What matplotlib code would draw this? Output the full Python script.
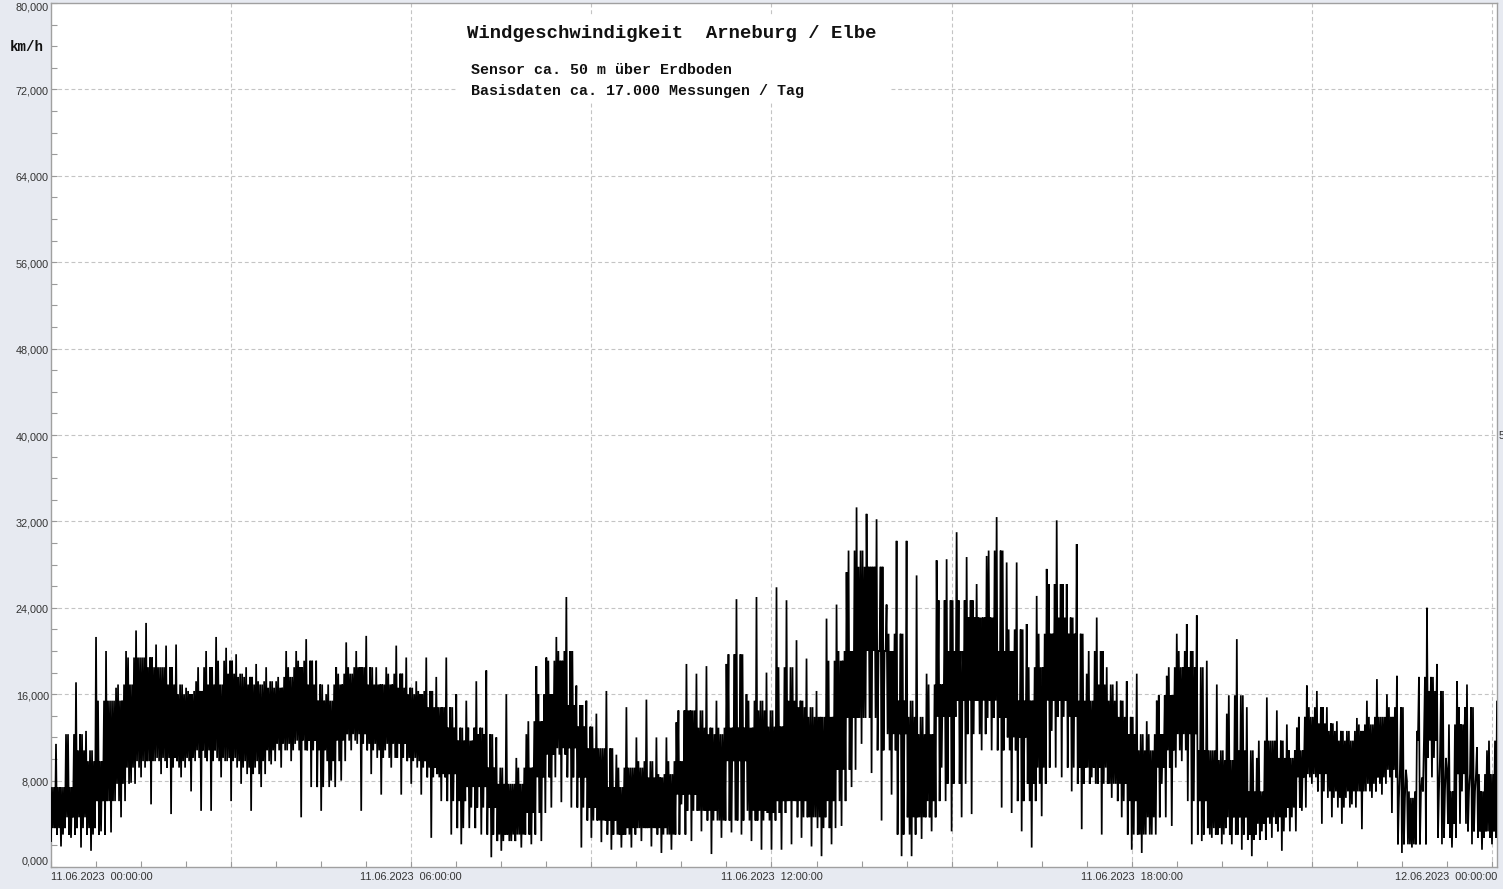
import numpy as np
import matplotlib
matplotlib.use("Agg")
import matplotlib.pyplot as plt
from matplotlib.patches import Rectangle

W, H = 1503, 889

# ---- data: wind speed (km/h), read per 10-minute segment of 11.06.2023 ----
segment_minutes = 10
spike_hi = [
    11.4, 12.3, 17.1, 12.6, 21.3, 20.0, 16.6, 20.0, 21.9, 22.6,
    20.6, 20.5, 20.6, 16.6, 17.2, 20.0, 21.3, 20.3, 19.7, 18.5,
    18.8, 18.5, 17.2, 20.0, 20.0, 21.1, 19.1, 16.0, 18.5, 20.8,
    20.0, 21.4, 18.5, 18.5, 20.5, 19.4, 17.2, 19.4, 17.6, 19.4,
    16.0, 15.4, 17.2, 18.2, 12.0, 16.0, 10.1, 12.3, 18.6, 19.4,
    21.3, 25.0, 16.8, 15.4, 14.2, 16.3, 10.4, 14.8, 12.0, 15.5,
    12.0, 12.0, 13.4, 18.8, 17.9, 18.6, 15.4, 18.8, 24.8, 16.0,
    25.0, 18.0, 25.9, 24.7, 21.0, 19.3, 16.3, 23.0, 24.3, 27.3,
    33.3, 32.7, 32.2, 24.3, 30.2, 30.2, 27.0, 17.9, 28.4, 28.5,
    31.0, 28.7, 26.2, 28.8, 32.4, 28.2, 28.2, 22.5, 25.1, 27.6,
    32.1, 26.2, 29.9, 17.9, 23.1, 18.5, 17.2, 17.2, 17.9, 13.5,
    15.4, 17.7, 21.6, 22.5, 23.3, 19.1, 16.9, 14.2, 21.1, 14.8,
    10.1, 15.7, 14.5, 13.2, 12.9, 16.8, 16.3, 14.8, 13.5, 12.6,
    13.8, 15.4, 17.4, 16.0, 17.7, 8.0, 12.6, 24.0, 18.8, 8.9,
    17.2, 16.9, 11.1, 10.8, 15.4,
]
spike_lo = [
    2.4, 1.9, 2.7, 1.8, 1.5, 3.3, 3.2, 4.6, 7.8, 8.3,
    5.8, 8.6, 4.9, 8.3, 7.0, 5.2, 5.2, 8.3, 6.1, 7.7,
    5.2, 7.4, 9.5, 9.2, 9.8, 4.6, 7.4, 5.2, 8.0, 8.0,
    10.8, 5.2, 8.6, 6.7, 9.2, 6.7, 7.7, 6.7, 2.7, 6.1,
    3.0, 2.1, 5.5, 3.0, 0.9, 1.5, 2.4, 1.8, 2.1, 2.4,
    5.5, 6.0, 5.5, 1.8, 2.7, 2.3, 1.6, 1.8, 1.8, 2.4,
    1.9, 1.3, 1.6, 5.8, 2.4, 3.3, 1.2, 2.7, 3.2, 3.0,
    2.4, 1.6, 1.6, 1.6, 2.1, 2.7, 1.9, 1.0, 2.1, 3.8,
    7.4, 11.4, 8.7, 4.3, 6.7, 1.0, 1.0, 2.6, 3.3, 9.2,
    3.3, 4.6, 4.9, 10.8, 10.8, 5.5, 5.0, 3.3, 1.8, 4.7,
    12.6, 8.3, 7.0, 3.5, 8.3, 3.0, 6.4, 4.6, 1.6, 1.3,
    3.0, 7.7, 3.8, 9.8, 2.1, 2.4, 2.7, 2.1, 2.1, 1.6,
    1.0, 3.3, 2.7, 1.5, 4.6, 5.2, 7.7, 4.0, 4.6, 4.0,
    5.8, 3.5, 6.4, 6.7, 5.0, 1.3, 1.8, 8.3, 8.3, 2.1,
    1.8, 7.0, 2.1, 1.6, 2.1,
]
core_hi = [
    7.4, 7.4, 12.3, 10.8, 9.8, 15.4, 15.4, 16.9, 19.4, 19.4,
    18.5, 18.5, 16.9, 16.0, 16.3, 18.5, 16.9, 19.1, 17.9, 17.6,
    16.9, 17.2, 16.6, 17.6, 18.5, 19.1, 16.9, 15.4, 16.9, 17.9,
    18.5, 18.5, 16.9, 16.9, 17.9, 16.6, 16.0, 16.3, 14.8, 14.8,
    12.9, 11.7, 12.9, 12.3, 9.2, 7.7, 7.7, 9.2, 13.5, 16.0,
    19.1, 20.0, 15.0, 13.0, 11.0, 11.0, 7.4, 9.2, 9.2, 9.8,
    8.3, 8.6, 9.8, 14.5, 14.5, 12.9, 12.3, 12.9, 19.7, 12.9,
    15.4, 14.5, 13.0, 18.5, 15.4, 14.8, 13.9, 13.9, 19.1, 20.0,
    29.3, 27.8, 27.8, 20.0, 21.6, 15.4, 13.9, 12.3, 16.9, 24.7,
    20.0, 24.7, 23.1, 23.1, 29.3, 20.0, 22.0, 15.4, 18.5, 21.6,
    26.2, 23.1, 21.6, 15.4, 20.0, 16.9, 15.4, 13.9, 12.3, 10.8,
    12.3, 15.9, 18.5, 20.0, 18.5, 10.8, 10.8, 9.9, 15.9, 10.8,
    7.0, 11.7, 11.7, 10.1, 10.8, 13.9, 14.8, 13.3, 12.6, 11.7,
    12.6, 13.2, 13.9, 13.9, 14.8, 6.4, 7.0, 17.6, 16.3, 7.0,
    13.2, 14.8, 7.0, 8.6, 11.7,
]
core_lo = [
    3.6, 3.0, 4.6, 3.6, 3.0, 6.1, 6.1, 7.7, 9.2, 9.8,
    9.8, 10.1, 9.2, 9.8, 10.1, 10.8, 9.8, 10.1, 9.8, 9.2,
    8.6, 9.8, 10.8, 11.4, 10.8, 11.7, 10.8, 7.4, 9.8, 11.7,
    12.3, 11.4, 10.8, 10.1, 11.4, 10.1, 9.8, 9.2, 8.3, 8.6,
    6.1, 3.6, 7.4, 5.5, 3.0, 2.4, 3.0, 3.0, 5.0, 8.3,
    10.4, 11.0, 8.3, 5.5, 4.3, 4.3, 3.0, 3.0, 3.6, 3.6,
    3.6, 3.0, 3.0, 6.7, 5.2, 5.2, 4.3, 4.3, 9.8, 4.3,
    5.2, 4.3, 5.0, 6.1, 6.1, 4.6, 4.6, 3.6, 6.1, 9.0,
    13.8, 13.8, 20.0, 10.8, 12.3, 3.0, 4.6, 4.6, 6.1, 13.9,
    7.7, 15.4, 12.3, 15.4, 13.8, 10.8, 12.0, 6.1, 7.7, 9.2,
    15.4, 13.9, 9.2, 7.7, 9.2, 7.7, 7.7, 6.1, 3.0, 3.0,
    4.6, 9.2, 10.8, 12.3, 6.1, 3.0, 3.6, 3.0, 4.6, 3.0,
    2.5, 4.0, 4.6, 3.3, 5.5, 8.3, 8.6, 7.0, 6.4, 5.5,
    7.0, 7.0, 7.7, 8.3, 9.0, 2.1, 2.1, 11.7, 10.1, 2.7,
    4.0, 8.6, 3.3, 2.7, 3.3,
]

y_ticks = [0, 8, 16, 24, 32, 40, 48, 56, 64, 72, 80]
y_tick_labels = ["0,000", "8,000", "16,000", "24,000", "32,000", "40,000",
                 "48,000", "56,000", "64,000", "72,000", "80,000"]
x_grid_hours = [3, 6, 9, 12, 15, 18, 21, 24]
x_tick_hours = [0, 6, 12, 18, 24]
x_tick_labels = ["11.06.2023  00:00:00", "11.06.2023  06:00:00",
                 "11.06.2023  12:00:00", "11.06.2023  18:00:00",
                 "12.06.2023  00:00:00"]
title = "Windgeschwindigkeit  Arneburg / Elbe"
subtitle1 = "Sensor ca. 50 m über Erdboden"
subtitle2 = "Basisdaten ca. 17.000 Messungen / Tag"
unit_label = "km/h"

# ---- figure ----
bg = "#e7eaf1"
fig = plt.figure(figsize=(W / 100, H / 100), dpi=100, facecolor=bg)
ax_l, ax_r, ax_t, ax_b = 51, 1497, 3, 867
ax = fig.add_axes([ax_l / W, 1 - ax_b / H, (ax_r - ax_l) / W, (ax_b - ax_t) / H])
ax.set_facecolor("white")

n = len(spike_hi)
t0 = np.arange(n) * segment_minutes
clo = np.array(core_lo)
chi = np.array(core_hi)
# neighbouring segments' dense ranges (edge-padded)
clo_prev = np.concatenate([clo[:1], clo[:-1]])
clo_next = np.concatenate([clo[1:], clo[-1:]])
chi_prev = np.concatenate([chi[:1], chi[:-1]])
chi_next = np.concatenate([chi[1:], chi[-1:]])

# dense trace: each segment's strokes visit its extremes and the dense
# ranges of itself and its neighbours (one stroke per minute)
order = [np.array(spike_lo), chi_prev, clo, chi, clo_prev,
         np.array(spike_hi), clo_next, chi_next, clo, chi]
k = len(order)
step = segment_minutes / k
xs = np.column_stack([t0 + j * step for j in range(k)]).ravel() / 60
ys = np.column_stack(order).ravel()
ax.plot(xs, ys, color="black", linewidth=1.25, zorder=4, solid_joinstyle="miter")

x_end = 1445 / 60
ax.set_xlim(0, x_end)
ax.set_ylim(0, 80)

# grid lines
grid_kw = dict(color="#c4c4c4", linestyle=(0, (3.5, 2.5)), linewidth=0.8, zorder=0.5)
for v in y_ticks[1:-1]:
    ax.axhline(v, **grid_kw)
for h in x_grid_hours:
    ax.axvline(h, **grid_kw)

# ticks: small inward ticks every 45 min / 2 km/h
ax.set_xticks(np.arange(0, x_end, 0.75))
ax.set_xticklabels([])
ax.set_yticks(np.arange(0, 80.1, 2))
ax.set_yticklabels([])
ax.tick_params(which="major", direction="in", length=4, width=0.8, color="#9a9a9a")

lab_kw = dict(fontsize=7.8, family="Liberation Sans", color="#333333")
ytr = ax.get_yaxis_transform()
for i, (v, lab) in enumerate(zip(y_ticks, y_tick_labels)):
    va = "bottom" if i == 0 else ("top" if i == len(y_ticks) - 1 else "center")
    ax.text(-0.0015, v - (0 if i in (0, len(y_ticks) - 1) else 0.2), lab,
            transform=ytr, ha="right", va=va, **lab_kw)

xtr = ax.get_xaxis_transform()
for i, (h, lab) in enumerate(zip(x_tick_hours, x_tick_labels)):
    if i == 0:
        ax.text(h, -0.006, lab, transform=xtr, ha="left", va="top", **lab_kw)
    elif i == len(x_tick_hours) - 1:
        ax.text(1.0, -0.006, lab, transform=ax.transAxes, ha="right", va="top", **lab_kw)
    else:
        ax.text(h, -0.006, lab, transform=xtr, ha="center", va="top", **lab_kw)

for s in ax.spines.values():
    s.set_color("#a0a0a0")
    s.set_linewidth(1.0)

# white box behind header text
ax.add_patch(Rectangle((458 / W, 1 - 102 / H), (890 - 458) / W, (102 - 15) / H,
                       transform=fig.transFigure, facecolor="white",
                       edgecolor="none", zorder=1))

mono = "Liberation Mono"
fig.text(467 / W, 1 - 33 / H, title, family=mono, weight="bold", fontsize=13.6,
         ha="left", va="center", color="#111111")
fig.text(471 / W, 1 - 70 / H, subtitle1, family=mono, weight="bold", fontsize=10.8,
         ha="left", va="center", color="#111111")
fig.text(471 / W, 1 - 91 / H, subtitle2, family=mono, weight="bold", fontsize=10.8,
         ha="left", va="center", color="#111111")
fig.text(10 / W, 1 - 47 / H, unit_label, family=mono, weight="bold", fontsize=10.2,
         ha="left", va="center", color="#111111")
fig.text(1499 / W, 1 - 436 / H, "5", family="Liberation Sans", fontsize=7.6,
         ha="left", va="center", color="#333333")

fig.savefig("out.png", dpi=100, facecolor=bg)
